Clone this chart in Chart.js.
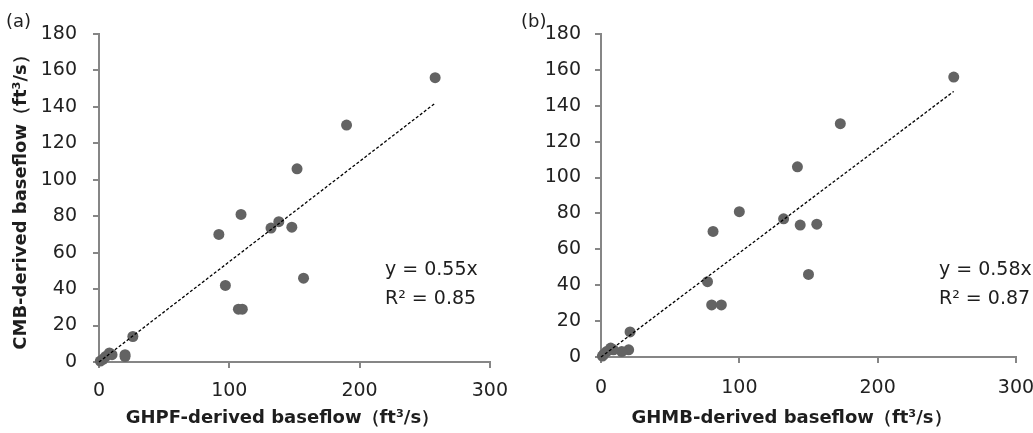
<!DOCTYPE html>
<html>
<head>
<meta charset="utf-8">
<script src="https://cdn.jsdelivr.net/npm/chart.js@4.4.1/dist/chart.umd.min.js"></script>
<style>
  html, body { margin: 0; padding: 0; background: #fff; overflow: hidden; }
  #wrap { position: relative; width: 1033px; height: 433px; }
  canvas { position: absolute; top: 0; }
  #chartA { left: 0; }
  #chartB { left: 520px; }
</style>
</head>
<body>
<div id="wrap">
  <canvas id="chartA" width="520" height="433"></canvas>
  <canvas id="chartB" width="540" height="433"></canvas>
</div>
<script>
// CMB baseflow (y in both panels), ft3/s
const cmbFlow  = [156, 130, 106, 81, 70, 73.5, 77, 74, 46, 42, 29, 29, 14, 4, 3, 5, 3, 1.5, 0.5, 4];
// GHPF baseflow (x, panel a)
const ghpfFlow = [258, 190, 152, 109, 92, 132, 138, 148, 157, 97, 107, 110, 26, 20, 20, 8, 5, 3, 1, 10];
// GHMB baseflow (x, panel b)
const ghmbFlow = [255, 173, 142, 100, 81, 144, 132, 156, 150, 77, 80, 87, 21, 20, 15, 7, 4, 2, 1, 9];

// fitted lines y = 0.55x and y = 0.58x, end points
const trendAX = [0, 258];
const trendAY = [0, 142];
const trendBX = [0, 255];
const trendBY = [0, 148];

const xTickValues = [0, 100, 200, 300];
const yTickValues = [0, 20, 40, 60, 80, 100, 120, 140, 160, 180];

const eqA = ["y = 0.55x", "R\u00b2 = 0.85"];
const eqB = ["y = 0.58x", "R\u00b2 = 0.87"];
const yTitleA = "CMB-derived baseflow\uff08ft\u00b3/s\uff09";
const xTitleA = "GHPF-derived baseflow\uff08ft\u00b3/s\uff09";
const xTitleB = "GHMB-derived baseflow\uff08ft\u00b3/s\uff09";

Chart.defaults.font.family = "'DejaVu Sans', sans-serif";
Chart.defaults.color = "#222";
const AXIS = "#868686";

// panel letter, equation and x title are drawn here (x title sits left of centre in the original)
const panelText = {
  id: "panelText",
  afterDraw(chart, args, o) {
    const ctx = chart.ctx;
    const area = chart.chartArea;
    ctx.save();
    ctx.fillStyle = "#1e1e1e";
    ctx.textAlign = "left";
    ctx.textBaseline = "alphabetic";
    ctx.font = "18px 'DejaVu Sans'";
    ctx.fillText(o.letter, o.letterX, 27);
    ctx.font = "19px 'DejaVu Sans'";
    o.equation.forEach((line, i) => ctx.fillText(line, o.eqX, 275 + i * 29));
    ctx.font = "bold 18px 'DejaVu Sans'";
    ctx.textAlign = "center";
    ctx.textBaseline = "middle";
    ctx.fillText(o.xTitle, (area.left + area.right) / 2 + o.xTitleShift, 418);
    ctx.restore();
  }
};

function makePanel(id, xs, tx, ty, o) {
  const pts = xs.map((x, i) => ({ x: x, y: cmbFlow[i] }));
  const line = tx.map((x, i) => ({ x: x, y: ty[i] }));
  new Chart(document.getElementById(id), {
    type: "scatter",
    data: {
      datasets: [
        { data: line, showLine: true, borderColor: "#000", borderWidth: 1.3, borderDash: [3, 2],
          pointRadius: 0, order: 0, clip: false },
        { data: pts, pointRadius: 5.5, backgroundColor: "#636363", borderWidth: 0, order: 1, clip: false },
      ],
    },
    options: {
      responsive: false,
      animation: false,
      events: [],
      layout: { padding: o.padding },
      plugins: {
        legend: { display: false },
        tooltip: { enabled: false },
        panelText: o.text,
      },
      scales: {
        x: {
          type: "linear", min: 0, max: 300,
          afterBuildTicks: (s) => { s.ticks = xTickValues.map((v) => ({ value: v })); },
          afterFit: (s) => { s.height = o.xHeight; },
          grid: { drawOnChartArea: false, tickLength: 6, color: AXIS, lineWidth: 2 },
          border: { color: AXIS, width: 2 },
          ticks: { padding: o.xPad, font: { size: 19 }, color: "#222" },
        },
        y: {
          type: "linear", min: 0, max: 180,
          afterBuildTicks: (s) => { s.ticks = yTickValues.map((v) => ({ value: v })); },
          afterFit: (s) => { s.width = o.yWidth; },
          grid: { drawOnChartArea: false, tickLength: 6, color: AXIS, lineWidth: 2 },
          border: { color: AXIS, width: 2 },
          ticks: { padding: o.yPad, font: { size: 19 }, color: "#222" },
          title: { display: !!o.yTitle, text: o.yTitle, font: { size: 18, weight: "bold" }, color: "#1e1e1e",
                   padding: { top: 11, bottom: 0 } },
        },
      },
    },
    plugins: [panelText],
  });
}

makePanel("chartA", ghpfFlow, trendAX, trendAY, {
  padding: { left: 0, top: 34, right: 29, bottom: 0 },
  xHeight: 71, yWidth: 99, xPad: 12, yPad: 16, yTitle: yTitleA,
  text: { letter: "(a)", letterX: 6, equation: eqA, eqX: 385, xTitle: xTitleA, xTitleShift: -12 },
});

makePanel("chartB", ghmbFlow, trendBX, trendBY, {
  padding: { left: 0, top: 34, right: 44, bottom: 0 },
  xHeight: 76, yWidth: 81, xPad: 14, yPad: 14, yTitle: "",
  text: { letter: "(b)", letterX: 1, equation: eqB, eqX: 419, xTitle: xTitleB, xTitleShift: -17 },
});
</script>
</body>
</html>
